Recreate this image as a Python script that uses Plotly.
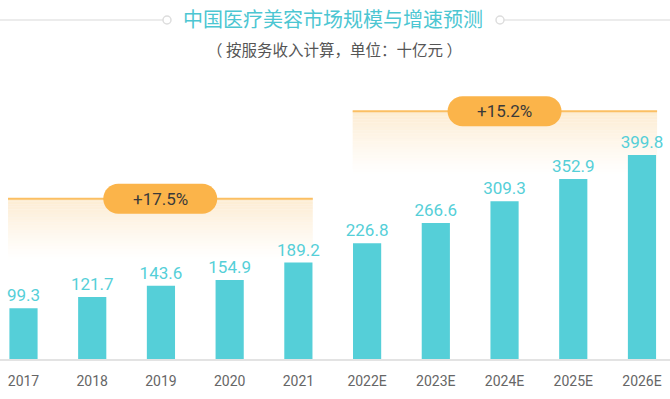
import plotly.graph_objects as go

categories = ["2017", "2018", "2019", "2020", "2021", "2022E", "2023E", "2024E", "2025E", "2026E"]
values = [99.3, 121.7, 143.6, 154.9, 189.2, 226.8, 266.6, 309.3, 352.9, 399.8]
value_labels = ["99.3", "121.7", "143.6", "154.9", "189.2", "226.8", "266.6", "309.3", "352.9", "399.8"]
cagr_labels = ["+17.5%", "+15.2%"]
title_text = "中国医疗美容市场规模与增速预测"
subtitle_text = "（ 按服务收入计算，单位：十亿元 ）"

TEAL = "#55cfd8"
ORANGE = "#fbb44a"
FONT = "Roboto, 'Noto Sans CJK SC', sans-serif"
CJK = "'Noto Sans CJK SC', sans-serif"

W, H = 670, 399
BASE_PX = 359            # pixel y of the baseline
PX_PER_UNIT = 0.51
YMAX = BASE_PX / PX_PER_UNIT
x_idx = list(range(len(categories)))

fig = go.Figure()

# gradient bands (stacked translucent strips, below the bars)
bands = [
    dict(x0=-0.225, x1=4.21, ytop=314, ybot=190),
    dict(x0=4.79, x1=9.22, ytop=486, ybot=356),
]
N = 24
for b in bands:
    step = (b["ytop"] - b["ybot"]) / N
    for i in range(N):
        t = i / (N - 1)
        a = 0.8 * (1 - t) ** 1.2
        fig.add_shape(type="rect", xref="x", yref="y", x0=b["x0"], x1=b["x1"],
                      y0=b["ytop"] - (i + 1) * step, y1=b["ytop"] - i * step,
                      fillcolor=f"rgba(252,232,200,{a:.3f})", line=dict(width=0), layer="below")
    fig.add_shape(type="line", xref="x", yref="y", x0=b["x0"], x1=b["x1"],
                  y0=b["ytop"], y1=b["ytop"], line=dict(color="#fbbf63", width=2), layer="above")

fig.add_trace(go.Bar(
    x=x_idx, y=values, width=0.41, marker=dict(color=TEAL, line=dict(width=0)),
    text=value_labels, textposition="outside", cliponaxis=False,
    textfont=dict(color=TEAL, size=17, family=FONT),
    hoverinfo="skip", showlegend=False,
))

# badges
r, hw = 15, 57
k = 0.5523 * r
cx = hw - r
path = (f"M {-cx},{-r} L {cx},{-r} C {cx+k},{-r} {hw},{-k} {hw},0 "
        f"C {hw},{k} {cx+k},{r} {cx},{r} L {-cx},{r} "
        f"C {-cx-k},{r} {-hw},{k} {-hw},0 C {-hw},{-k} {-cx-k},{-r} {-cx},{-r} Z")
badge_pos = [(1.99, 314), (7.0, 486)]
for (bx, by), lab in zip(badge_pos, cagr_labels):
    fig.add_shape(type="path", xref="x", yref="y", xsizemode="pixel", ysizemode="pixel",
                  xanchor=bx, yanchor=by, path=path,
                  fillcolor=ORANGE, line=dict(width=0), layer="above")
    fig.add_annotation(x=bx, y=by, xref="x", yref="y", text=lab, showarrow=False,
                       yanchor="middle", xanchor="center",
                       font=dict(size=17, color="#3a3a3a", family=FONT))

# title decoration
def py(p):
    return (BASE_PX - p) / BASE_PX

def px(p):
    return p / W

fig.add_shape(type="line", xref="paper", yref="paper", x0=0, x1=px(163), y0=py(20), y1=py(20),
              line=dict(color="#e6e6e6", width=1.5))
fig.add_shape(type="line", xref="paper", yref="paper", x0=px(504), x1=1, y0=py(20), y1=py(20),
              line=dict(color="#e6e6e6", width=1.5))
for c in (167, 500):
    fig.add_shape(type="circle", xref="paper", yref="paper", x0=px(c - 4), x1=px(c + 4),
                  y0=py(24), y1=py(16), line=dict(color="#dddddd", width=1.5), fillcolor="white")

fig.add_annotation(x=px(333), y=py(19), xref="paper", yref="paper", text=title_text,
                   showarrow=False, yanchor="middle", xanchor="center",
                   font=dict(size=20, color="#4cc6d2", family=CJK))
fig.add_annotation(x=px(334), y=py(49), xref="paper", yref="paper", text=subtitle_text,
                   showarrow=False, yanchor="middle", xanchor="center",
                   font=dict(size=15.5, color="#555555", family=CJK))

x_r0 = -23.5 / 68.72
fig.update_layout(
    width=W, height=H,
    margin=dict(l=0, r=0, t=0, b=H - BASE_PX),
    paper_bgcolor="white", plot_bgcolor="white",
    uniformtext=dict(minsize=17, mode="show"),
    xaxis=dict(range=[x_r0, x_r0 + W / 68.72], tickmode="array", tickvals=x_idx, ticktext=categories,
               showgrid=False, zeroline=False, showline=True, linecolor="#e3e3e3", linewidth=2,
               ticks="", ticklabelstandoff=8, tickfont=dict(size=14, color="#666666", family=FONT)),
    yaxis=dict(range=[0, YMAX], visible=False, showgrid=False, zeroline=False),
    font=dict(family=FONT),
)

fig.write_html("out.html", config={"displayModeBar": False, "staticPlot": True},
               post_script="document.body.style.margin='0';document.body.style.overflow='hidden';")
